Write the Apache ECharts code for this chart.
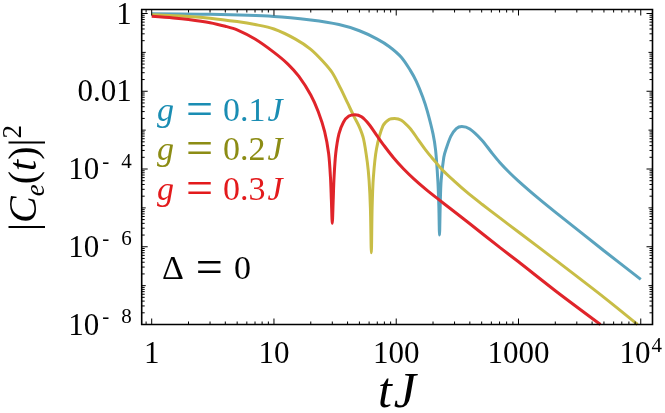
<!DOCTYPE html>
<html><head><meta charset="utf-8">
<script src="https://cdn.jsdelivr.net/npm/echarts@6/dist/echarts.min.js"></script>
<style>html,body{margin:0;padding:0;background:#fff}#c{width:665px;height:413px}</style>
</head><body><div id="c"></div>
<script>
// ---- data ----
const xTickValues = [1, 10, 100, 1000, 10000];
const xTickLabels = ['1', '10', '100', '1000', '10^4'];
const yTickValues = [1, 1e-2, 1e-4, 1e-6, 1e-8];
const yTickLabels = ['1', '0.01', '10^-4', '10^-6', '10^-8'];
const seriesNames = ['g = 0.1J', 'g = 0.2J', 'g = 0.3J'];

const tBlue = [1, 3, 10, 20, 34, 50, 70, 88, 110, 130, 146, 165, 180, 200, 210, 219, 223, 226, 229, 233, 245, 256, 280, 310, 344, 400, 500, 600, 700, 850, 1000, 1400, 2000, 5000, 10000];
const vBlue = [0.985, 0.95, 0.84, 0.68, 0.52, 0.36, 0.22, 0.14, 0.075, 0.035, 0.018, 7e-3, 3e-3, 8e-4, 3e-4, 5e-5, 1.2e-5, 2e-6, 1.2e-5, 5e-5, 2e-4, 3.3e-4, 7e-4, 1.1e-3, 1.24e-3, 1.07e-3, 5.6e-4, 2.7e-4, 1.5e-4, 7.9e-5, 4.9e-5, 1.95e-5, 7.8e-6, 7.9e-7, 1.45e-7];

const tYellow = [1, 2, 3, 5, 7, 10, 15, 20, 25, 30, 35, 40, 45, 50, 54, 58, 60, 61.5, 62.6, 63.5, 65, 69, 78, 88, 97, 110, 130, 150, 175, 200, 240, 300, 380, 500, 700, 1000, 2000, 5000, 9420];
const vYellow = [0.93, 0.84, 0.76, 0.62, 0.52, 0.40, 0.22, 0.12, 0.06, 0.03, 0.012, 5e-3, 2.3e-3, 1.2e-3, 6e-4, 1.5e-4, 5e-5, 1e-5, 7e-7, 1e-5, 6e-5, 3.3e-4, 1.3e-3, 1.9e-3, 2.0e-3, 1.8e-3, 1.1e-3, 5.9e-4, 3.0e-4, 1.8e-4, 9.3e-5, 4.8e-5, 2.5e-5, 1.26e-5, 5.6e-6, 2.4e-6, 4.6e-7, 5.0e-8, 1e-8];

const tRed = [1, 1.5, 2, 3, 4, 5, 7, 10, 13, 16, 20, 23, 26, 28, 29, 29.5, 30, 30.5, 31, 32, 34, 37, 41, 46, 52, 60, 70, 80, 95, 115, 140, 175, 226, 275, 400, 707, 1000, 2000, 4680];
const vRed = [0.85, 0.77, 0.70, 0.58, 0.47, 0.38, 0.22, 0.10, 0.05, 0.024, 0.008, 3e-3, 9e-4, 2.5e-4, 6e-5, 1.5e-5, 4e-6, 1.5e-5, 6e-5, 2.5e-4, 8e-4, 1.6e-3, 2.3e-3, 2.5e-3, 2.2e-3, 1.4e-3, 7e-4, 3.9e-4, 1.95e-4, 1.0e-4, 5.5e-5, 3.0e-5, 1.58e-5, 9.8e-6, 3.9e-6, 9.5e-7, 4.1e-7, 7.4e-8, 1e-8];

// ---- styles ----
const SERIF = "'Liberation Serif', 'DejaVu Serif', serif";
const lineColors = ['#5aa3be', '#c8bd46', '#e0242a'];
const textColors = ['#1a8db3', '#8c8c14', '#e31a1c'];

function zip(t, v) { return t.map((x, i) => [x, v[i]]); }
function fmtTick(lbl) {
  const m = lbl.match(/^10\^(-?)(\d+)$/);
  if (!m) return '{b|' + lbl + '}';
  return '{b|10}' + (m[1] ? '{m|-}' : '') + '{s|' + m[2] + '}';
}
function findLabel(values, labels, v) {
  for (let i = 0; i < values.length; i++) {
    if (Math.abs(Math.log10(v) - Math.log10(values[i])) < 1e-6) return fmtTick(labels[i]);
  }
  return '';
}
const richTick = {
  b: { fontFamily: SERIF, fontSize: 31, color: '#000', lineHeight: 35, verticalAlign: 'bottom' },
  m: { fontFamily: SERIF, fontSize: 21, color: '#000', lineHeight: 21, verticalAlign: 'top', padding: [0, 11, 0, 3] },
  s: { fontFamily: SERIF, fontSize: 21, color: '#000', lineHeight: 21, verticalAlign: 'top', padding: [0, 0, 0, 1] }
};

const chart = echarts.init(document.getElementById('c'), null, { renderer: 'canvas' });

const GL = 151.7, GR = 23.5, GT = 9.5, GB = 88.5;
const FRAME = { x0: 141.7, x1: 652.5, y0: 9.5, y1: 324.5 };

const option = {
  animation: false,
  backgroundColor: '#fff',
  grid: { left: GL, right: GR, top: GT, bottom: GB, containLabel: false },
  xAxis: [{
    type: 'log', logBase: 10, min: 1, max: 10000,
    axisLine: { show: false }, axisTick: { show: false }, splitLine: { show: false },
    axisLabel: {
      margin: 11, rich: richTick,
      formatter: v => findLabel(xTickValues, xTickLabels, v)
    }
  }],
  yAxis: [{
    type: 'log', logBase: 10, min: 1e-8, max: 1, offset: 10,
    axisLine: { show: false }, axisTick: { show: false }, splitLine: { show: false },
    axisLabel: {
      margin: 10, rich: richTick,
      formatter: v => findLabel(yTickValues, yTickLabels, v)
    }
  }],
  series: [
    { name: seriesNames[0], data: zip(tBlue, vBlue), color: lineColors[0] },
    { name: seriesNames[1], data: zip(tYellow, vYellow), color: lineColors[1] },
    { name: seriesNames[2], data: zip(tRed, vRed), color: lineColors[2] }
  ].map(s => Object.assign({
    type: 'line', showSymbol: false, smooth: 0.3,
    lineStyle: { width: 3, color: s.color }, z: 3
  }, s))
};
chart.setOption(option);

// ---- frame, ticks, annotations ----
const g = [];
g.push({ type: 'rect', shape: { x: FRAME.x0, y: FRAME.y0, width: FRAME.x1 - FRAME.x0, height: FRAME.y1 - FRAME.y0 },
  style: { fill: 'none', stroke: '#000', lineWidth: 1.6 }, z: 10 });
function px(v) { return chart.convertToPixel({ xAxisIndex: 0 }, v); }
function py(v) { return chart.convertToPixel({ yAxisIndex: 0 }, v); }
function tick(x1, y1, x2, y2) {
  g.push({ type: 'line', shape: { x1, y1, x2, y2 }, style: { stroke: '#000', lineWidth: 1 }, z: 10 });
}
const MAJ = 6, MIN = 3;
for (let k = -1; k <= 4; k++) {
  for (let m = 1; m <= 9; m++) {
    const v = m * Math.pow(10, k);
    const x = px(v);
    if (x < FRAME.x0 + 1 || x > FRAME.x1 - 1) continue;
    const L = (m === 1) ? MAJ : MIN;
    tick(x, FRAME.y1, x, FRAME.y1 - L);
    tick(x, FRAME.y0, x, FRAME.y0 + L);
  }
}
for (let k = -8; k <= 0; k++) {
  for (let m = 1; m <= 9; m++) {
    const v = m * Math.pow(10, k);
    if (v > 1.0001) continue;
    const y = py(v);
    if (y < FRAME.y0 + 0.5 || y > FRAME.y1 - 0.5) continue;
    const L = (m === 1 && k % 2 === 0) ? MAJ : (m === 1 ? 4 : MIN);
    tick(FRAME.x0, y, FRAME.x0 + L, y);
    tick(FRAME.x1, y, FRAME.x1 - L, y);
  }
}
g.push({ type: 'text', x: 25, y: 178, rotation: Math.PI / 2, z: 10,
  style: { text: '{n||}{i|C}{sub|e}{n|(}{i|t}{n|)|}{sup|2}', align: 'center', verticalAlign: 'middle',
    rich: {
      n: { fontFamily: SERIF, fontSize: 40, lineHeight: 50, verticalAlign: 'middle', fill: '#000' },
      i: { fontFamily: SERIF, fontSize: 40, fontStyle: 'italic', lineHeight: 50, verticalAlign: 'middle', fill: '#000' },
      sub: { fontFamily: SERIF, fontSize: 27, fontStyle: 'italic', lineHeight: 27, verticalAlign: 'bottom', fill: '#000' },
      sup: { fontFamily: SERIF, fontSize: 27, lineHeight: 27, verticalAlign: 'top', fill: '#000' }
    } } });
g.push({ type: 'text', x: 397, y: 394, z: 10,
  style: { text: '{t|t}{j|J}', align: 'center', verticalAlign: 'middle',
    rich: {
      t: { fontFamily: SERIF, fontSize: 50, fontStyle: 'italic', fill: '#000', padding: [0, 2, 0, 0] },
      j: { fontFamily: SERIF, fontSize: 50, fontStyle: 'italic', fill: '#000' }
    } } });
const legendY = [112, 151, 191];
const legendVals = ['0.1', '0.2', '0.3'];
legendVals.forEach((val, i) => {
  const c = textColors[i];
  g.push({ type: 'text', x: 157, y: legendY[i], z: 10,
    style: { text: '{i|g}{e|=}{n|' + val + '}{j|J}', align: 'left', verticalAlign: 'middle',
      rich: {
        i: { fontFamily: SERIF, fontSize: 34, fontStyle: 'italic', fill: c, lineHeight: 40 },
        j: { fontFamily: SERIF, fontSize: 34, fontStyle: 'italic', fill: c, padding: [0, 0, 0, 2], lineHeight: 40 },
        n: { fontFamily: SERIF, fontSize: 34, fill: c, lineHeight: 40 },
        e: { fontFamily: SERIF, fontSize: 48, fill: c, padding: [0, 10, 0, 12], lineHeight: 40 }
      } } });
});
g.push({ type: 'text', x: 162, y: 270, z: 10,
  style: { text: '{n|Δ}{e|=}{n|0}', align: 'left', verticalAlign: 'middle',
    rich: {
      n: { fontFamily: SERIF, fontSize: 34, fill: '#000', lineHeight: 40 },
      e: { fontFamily: SERIF, fontSize: 48, fill: '#000', padding: [0, 11, 0, 12], lineHeight: 40 }
    } } });
chart.setOption({ graphic: g });
</script>
</body></html>
